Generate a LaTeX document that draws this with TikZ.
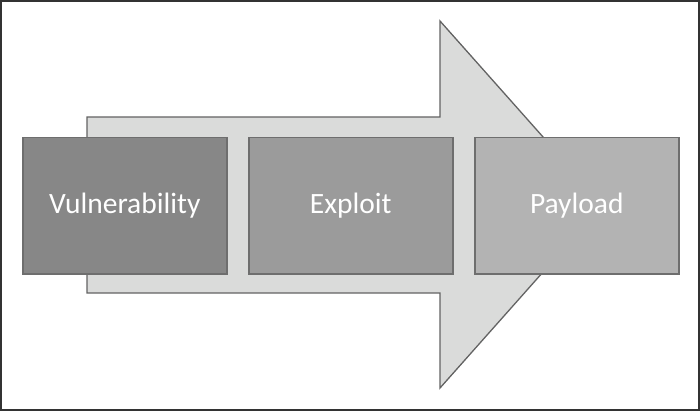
\documentclass[tikz,border=0pt]{standalone}
\usepackage{fontspec}
\setmainfont{Carlito}
\definecolor{arrowfill}{HTML}{DADBDA}
\definecolor{edgegray}{HTML}{6E6E6E}
\definecolor{vulnfill}{HTML}{878787}
\definecolor{explfill}{HTML}{9B9B9B}
\definecolor{payfill}{HTML}{B3B3B3}
\tikzset{
  stagebox/.style={draw=edgegray, line width=1.5pt, minimum width=204pt, minimum height=136pt,
    inner sep=0pt, text=white, font=\fontsize{29.5}{34}\selectfont, anchor=north west},
}
\begin{document}
\begin{tikzpicture}[x=1pt,y=-1pt]
\useasboundingbox (0,0) rectangle (700,411);
\draw[line width=2pt, draw=black!80] (1,1) rectangle (699,410);
% big arrow
\draw[fill=arrowfill, draw=edgegray!90!black, line width=1.3pt, line join=miter]
  (87,117) -- (440,117) -- (440,21) -- (603,204.5) -- (440,388) -- (440,293) -- (87,293) -- cycle;
\node[stagebox, fill=vulnfill] (v) at (22,137) {Vulnerability};
\node[stagebox, fill=explfill] (e) at (248,137) {Exploit};
\node[stagebox, fill=payfill] (p) at (474,137) {Payload};
\end{tikzpicture}
\end{document}
